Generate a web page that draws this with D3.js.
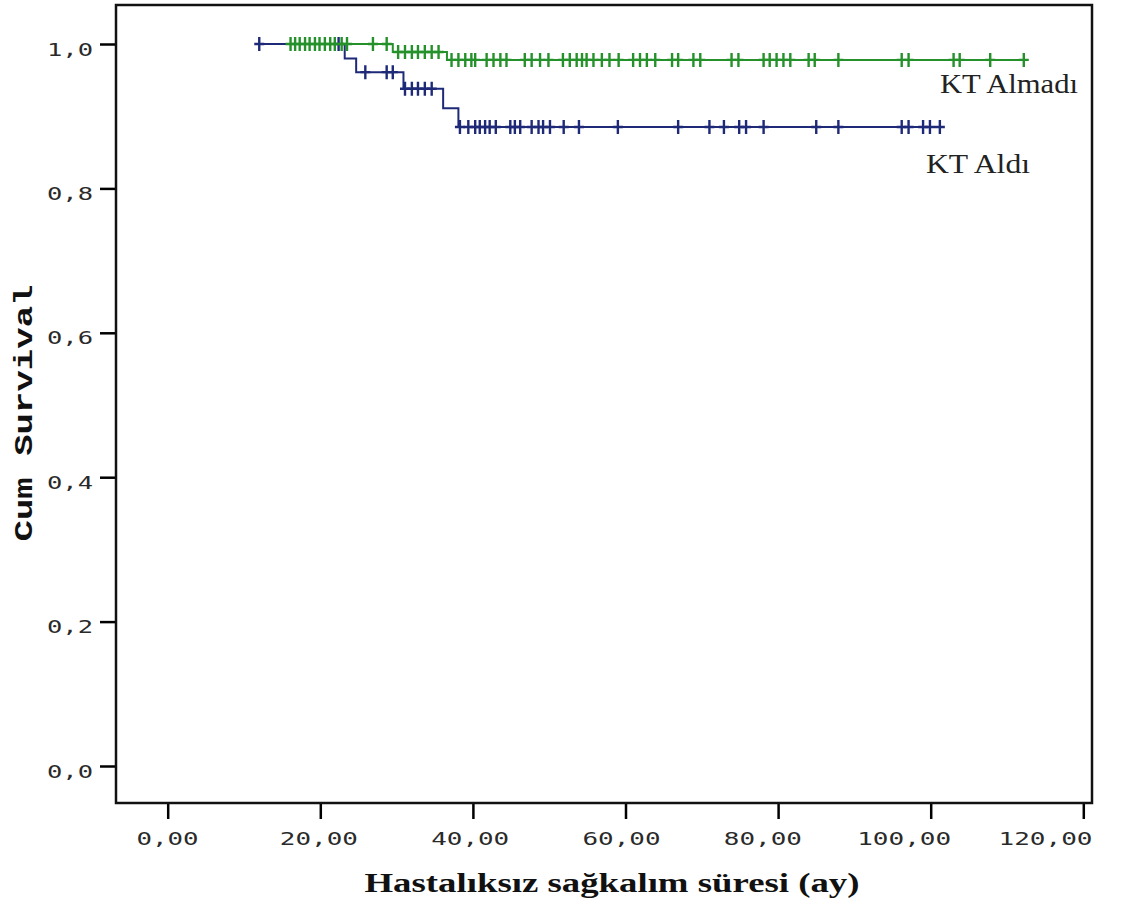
<!DOCTYPE html>
<meta charset="utf-8">
<script src="https://d3js.org/d3.v7.min.js"></script>
<style>
body {margin: 0; background: #fff;}
</style>
<div id="chart"></div>
<script>
// axis ticks
var xTicks = [0, 20, 40, 60, 80, 100, 120];
var yTicks = [0, 0.2, 0.4, 0.6, 0.8, 1.0];

// KT Aldı (blue) - step times and survival after each step
var aldiTimes = [12.0, 23.2, 24.7, 30.9, 36.1, 38.1];
var aldiSurv = [1.0, 0.980, 0.961, 0.938, 0.911, 0.885];
var aldiCensored = [12.0, 22.4, 25.9, 28.7, 29.5, 31.1, 32.0, 32.8, 33.7, 34.6,
	38.3, 39.4, 40.3, 40.9, 41.6, 42.2, 43.0, 44.9, 45.5, 46.2, 47.7, 48.6, 49.2,
	50.1, 51.9, 53.9, 59.0, 66.9, 71.0, 72.9, 74.9, 75.8, 78.1, 85.0, 87.9, 96.2,
	97.1, 99.0, 99.9, 101.2];

// KT Almadı (green)
var almadiTimes = [15.8, 29.5, 36.6];
var almadiSurv = [1.0, 0.989, 0.978];
var almadiCensored = [16.1, 16.7, 17.3, 18.0, 18.6, 19.3, 19.9, 20.6, 21.3, 21.9,
	22.8, 23.5, 26.9, 28.7, 30.2, 31.1, 32.0, 32.8, 33.7, 34.6, 35.5, 37.2, 38.1,
	39.0, 39.8, 40.3, 41.8, 42.7, 43.6, 44.4, 46.8, 47.7, 48.8, 49.9, 51.8, 52.7,
	53.6, 54.3, 54.9, 55.8, 56.9, 57.9, 59.1, 61.0, 61.9, 62.8, 63.9, 66.1, 66.9,
	68.9, 69.8, 73.9, 74.8, 78.1, 78.9, 79.8, 80.7, 81.6, 84.0, 84.8, 87.9, 96.2,
	97.1, 103.0, 103.8, 107.8, 112.2];

var width = 1145;
var height = 906;

var svg = d3.select("#chart").append("svg")
	.attr("width", width)
	.attr("height", height);

var x = d3.scaleLinear().domain([0, 120]).range([167.7, 1083.3]);
var y = d3.scaleLinear().domain([0, 1]).range([766, 44]);
// the tick labels drift left of their ticks in the original
var xLabel = d3.scaleLinear().domain([0, 60, 120]).range([167, 621, 1045]);

function comma(d) { return d.toFixed(2).replace(".", ","); }

// wide, spaced-out digits like the SPSS output
function styleTicks(sel) {
	sel.attr("font-family", "DejaVu Sans Mono")
		.attr("font-size", 18)
		.attr("fill", "#2a2a2a")
		.attr("lengthAdjust", "spacingAndGlyphs")
		.attr("textLength", function() { return this.textContent.length * 16 - 2; });
}

// y axis
var yAxis = svg.append("g")
	.attr("transform", "translate(116,0)")
	.call(d3.axisLeft(y).tickValues(yTicks).tickSize(16).tickPadding(7)
		.tickFormat(function(d) { return d.toFixed(1).replace(".", ","); }));
yAxis.select(".domain").remove();
yAxis.selectAll("line").attr("stroke", "#000").attr("stroke-width", 2.5);
yAxis.selectAll("text").call(styleTicks).attr("dy", "0.62em");

// x axis
var xAxis = svg.append("g")
	.attr("transform", "translate(0,803)")
	.call(d3.axisBottom(x).tickValues(xTicks).tickSize(16).tickPadding(13)
		.tickFormat(comma));
xAxis.select(".domain").remove();
xAxis.selectAll("line").attr("stroke", "#000").attr("stroke-width", 2.5);
xAxis.selectAll("text").call(styleTicks)
	.attr("x", function(d) { return xLabel(d) - x(d); });

// frame
svg.append("rect")
	.attr("x", 116)
	.attr("y", 5)
	.attr("width", 976)
	.attr("height", 798)
	.attr("fill", "none")
	.attr("stroke", "#111")
	.attr("stroke-width", 2.5);

// axis titles
svg.append("text")
	.attr("x", 612)
	.attr("y", 892)
	.attr("text-anchor", "middle")
	.attr("font-family", "Liberation Serif")
	.attr("font-weight", "bold")
	.attr("font-size", 28)
	.attr("textLength", 495)
	.attr("lengthAdjust", "spacingAndGlyphs")
	.attr("fill", "#111")
	.text("Hastalıksız sağkalım süresi (ay)");

svg.append("text")
	.attr("transform", "translate(32,413) rotate(-90)")
	.attr("text-anchor", "middle")
	.attr("font-family", "Liberation Mono")
	.attr("font-weight", "bold")
	.attr("font-size", 25)
	.attr("textLength", 257)
	.attr("lengthAdjust", "spacingAndGlyphs")
	.attr("fill", "#111")
	.text("Cum Survival");

// survival at time t for a step curve
function survAt(times, surv, t) {
	var s = surv[0];
	for (var i = 0; i < times.length; i++) {
		if (times[i] <= t) s = surv[i];
	}
	return s;
}

function drawCurve(times, surv, censored, color) {
	var end = censored[censored.length - 1];
	var pts = [];
	for (var i = 0; i < times.length; i++) pts.push([times[i], surv[i]]);
	pts.push([end, surv[surv.length - 1]]);
	var line = d3.line()
		.x(function(d) { return x(d[0]); })
		.y(function(d) { return y(d[1]); })
		.curve(d3.curveStepAfter);
	svg.append("path")
		.attr("d", line(pts))
		.attr("fill", "none")
		.attr("stroke", color)
		.attr("stroke-width", 2);
	svg.append("g").selectAll("path")
		.data(censored)
		.enter().append("path")
		.attr("transform", function(d) {
			return "translate(" + x(d) + "," + y(survAt(times, surv, d)) + ")";
		})
		.attr("d", "M-5,0H5M0,-7V7")
		.attr("stroke", color)
		.attr("stroke-width", 2.4);
}

drawCurve(aldiTimes, aldiSurv, aldiCensored, "#1e2a78");
drawCurve(almadiTimes, almadiSurv, almadiCensored, "#25912a");

// group labels
svg.append("text")
	.attr("x", 940)
	.attr("y", 93)
	.attr("font-family", "Liberation Serif")
	.attr("font-size", 27)
	.attr("textLength", 138)
	.attr("lengthAdjust", "spacingAndGlyphs")
	.attr("fill", "#222")
	.text("KT Almadı");

svg.append("text")
	.attr("x", 926)
	.attr("y", 173)
	.attr("font-family", "Liberation Serif")
	.attr("font-size", 27)
	.attr("textLength", 104)
	.attr("lengthAdjust", "spacingAndGlyphs")
	.attr("fill", "#222")
	.text("KT Aldı");
</script>
